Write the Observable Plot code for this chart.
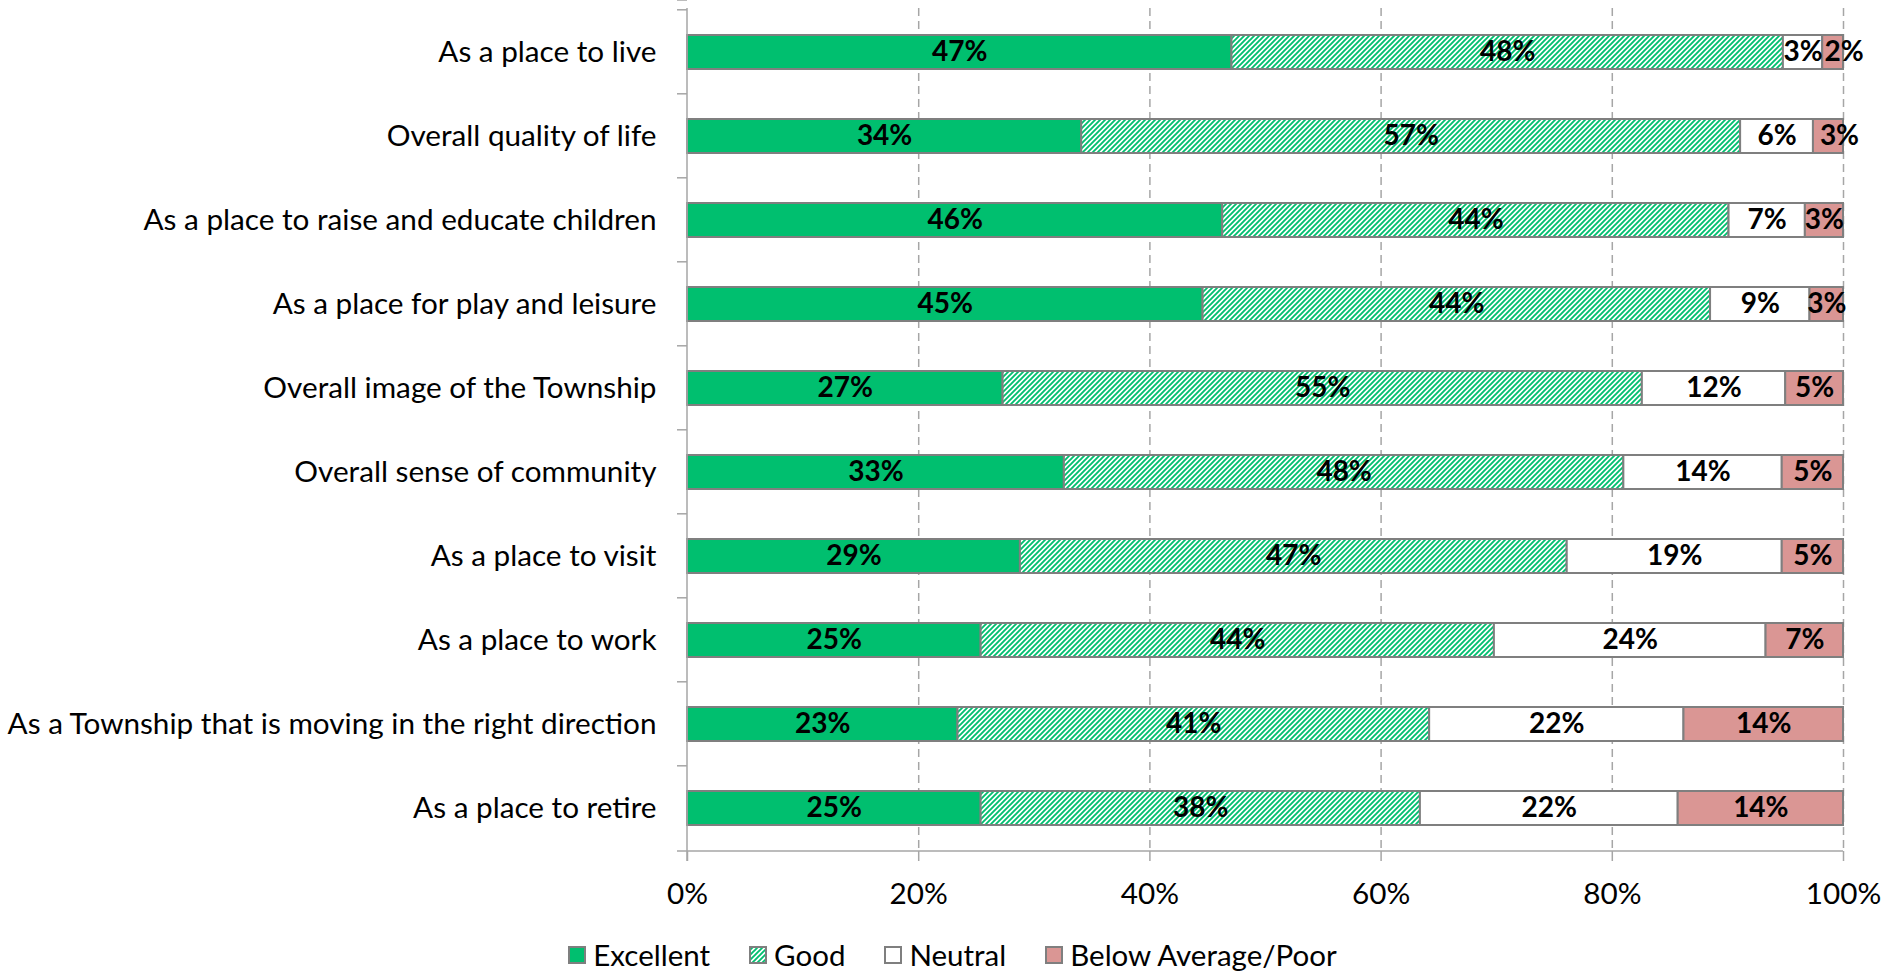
<!DOCTYPE html>
<html><head><meta charset="utf-8">
<script src="https://cdn.jsdelivr.net/npm/d3@7"></script>
<script src="https://cdn.jsdelivr.net/npm/@observablehq/plot@0.6"></script>
<style>
body{margin:0;background:#fff;font-family:Lato, "Open Sans", sans-serif;}
#legend{display:flex;justify-content:center;align-items:center;height:43px;font-size:29.5px;color:#000;padding-left:20px;padding-top:6px;box-sizing:border-box;width:1885px;}
.item{display:flex;align-items:center;margin:0 19.5px;}
.item svg{margin-right:7px;}
</style></head><body><div id="chart"></div><div id="legend"></div>
<script>
const categories = [
  "As a place to live",
  "Overall quality of life",
  "As a place to raise and educate children",
  "As a place for play and leisure",
  "Overall image of the Township",
  "Overall sense of community",
  "As a place to visit",
  "As a place to work",
  "As a Township that is moving in the right direction",
  "As a place to retire"
];
const ratings = ["Excellent", "Good", "Neutral", "Below Average/Poor"];
const excellent = [47.1, 34.1, 46.3, 44.6, 27.3, 32.6, 28.8, 25.4, 23.4, 25.4];
const good      = [47.7, 57.0, 43.8, 43.9, 55.3, 48.4, 47.3, 44.4, 40.8, 38.0];
const neutral   = [3.4, 6.3, 6.6, 8.6, 12.4, 13.7, 18.6, 23.5, 22.0, 22.3];
const poor      = [1.8, 2.6, 3.3, 2.9, 5.0, 5.3, 5.3, 6.7, 13.8, 14.3];
const xTicks = [0, 20, 40, 60, 80, 100];
const gridTicks = [20, 40, 60, 80, 100];
const colors = ["#00bf6f", "url(#hatch)", "#ffffff", "#da9694"];

const series = [excellent, good, neutral, poor];
const data = categories.flatMap((c, i) => ratings.map((r, j) => ({category: c, rating: r, value: series[j][i]})));
const label = d => Math.round(d.value) + "%";
const narrowEnd = d => d.rating === ratings[3] && d.value < 2.7;

function frameAxes(index, scales, values, dims) {
  const x = scales.x, y = scales.y;
  const step = y(categories[1]) - y(categories[0]);
  const off = step * 0.3;
  const g = d3.create("svg:g").attr("stroke", "#a6a6a6").attr("stroke-width", 1.5).attr("fill", "none");
  const top = dims.marginTop, bottom = dims.height - dims.marginBottom;
  const x0 = x(0), x1 = x(100);
  const bounds = categories.map(c => y(c) - off);
  bounds.push(y(categories[categories.length - 1]) + y.bandwidth + off);
  g.append("line").attr("x1", x0).attr("x2", x0).attr("y1", top).attr("y2", bottom + 10);
  g.append("line").attr("x1", x0 - 10).attr("x2", x1).attr("y1", bottom).attr("y2", bottom);
  for (const b of bounds) g.append("line").attr("x1", x0 - 10).attr("x2", x0).attr("y1", b).attr("y2", b);
  return g.node();
}

const textOpts = {fontWeight: "bold", fontSize: 28, fill: "#000"};
const plot = Plot.plot({
  width: 1885, height: 930,
  marginLeft: 687, marginRight: 42, marginTop: 8, marginBottom: 79,
  style: {fontFamily: "Lato, 'Open Sans', sans-serif", fontSize: "29.7px", color: "#000", background: "#fff"},
  x: {domain: [0, 100]},
  y: {domain: categories, paddingInner: 0.6, paddingOuter: 0.3, label: null},
  color: {domain: ratings, range: colors},
  marks: [
    Plot.ruleX(gridTicks, {stroke: "#a6a6a6", strokeWidth: 1.5, strokeDasharray: "8,5"}),
    Plot.barX(data, Plot.stackX({x: "value", y: "category", fill: "rating", stroke: "#7f7f7f", strokeWidth: 2})),
    Plot.text(data, Plot.stackX({x: "value", y: "category", z: "rating", text: d => narrowEnd(d) ? "" : label(d), ...textOpts})),
    Plot.text(data, Plot.stackX({x: "value", y: "category", z: "rating", text: d => narrowEnd(d) ? label(d) : "", dx: 11, ...textOpts})),
    Plot.axisY({tickSize: 0, tickPadding: 31, label: null, fill: "#000"}),
    Plot.axisX(xTicks, {tickFormat: d => d + "%", tickSize: 10, tickPadding: 21, label: null, stroke: "#a6a6a6", strokeWidth: 1.5, fill: "#000"}),
    frameAxes
  ]
});
d3.select(plot).insert("defs", ":first-child").html(
  '<pattern id="hatch" patternUnits="userSpaceOnUse" width="5" height="5">' +
  '<rect width="5" height="5" fill="#fff"/>' +
  '<path d="M-1.25,1.25 l2.5,-2.5 M0,5 l5,-5 M3.75,6.25 l2.5,-2.5" stroke="#00bf6f" stroke-width="1.9"/></pattern>');
document.getElementById("chart").appendChild(plot);

const legend = document.getElementById("legend");
ratings.forEach((r, j) => {
  const item = document.createElement("div");
  item.className = "item";
  item.innerHTML = `<svg width="18" height="18"><rect x="1" y="1" width="16" height="16" fill="${colors[j]}" stroke="#7f7f7f" stroke-width="2"/></svg><span>${r}</span>`;
  legend.appendChild(item);
});
</script></body></html>
